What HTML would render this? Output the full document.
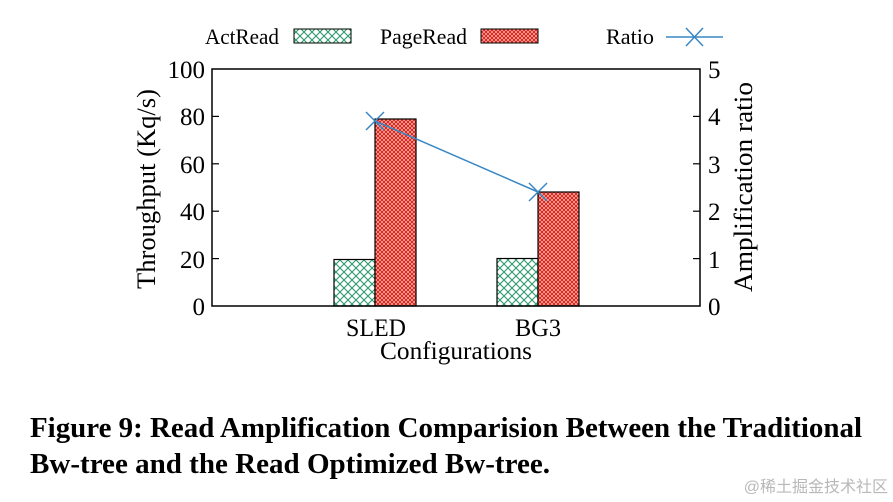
<!DOCTYPE html>
<html><head><meta charset="utf-8"><style>
html,body{margin:0;padding:0;background:#fff;}
svg{display:block;font-family:"Liberation Serif",serif;}
</style></head><body>
<svg width="893" height="502" viewBox="0 0 893 502" xmlns="http://www.w3.org/2000/svg">
<defs>
<pattern id="g" width="8" height="8" patternUnits="userSpaceOnUse">
<rect width="8" height="8" fill="#fff"/>
<path d="M0 0L8 8M8 0L0 8M-1 7L1 9M7 -1L9 1" stroke="#2a9a6a" stroke-width="1.1"/>
</pattern>
<pattern id="r" width="4" height="4" patternUnits="userSpaceOnUse">
<rect width="4" height="4" fill="#e0281e"/>
<path d="M0 0L4 4M4 0L0 4" stroke="#fff" stroke-width="0.5"/>
</pattern>
</defs>
<g font-size="22" fill="#000">
<text x="205" y="44" textLength="74" lengthAdjust="spacingAndGlyphs">ActRead</text>
<rect x="294" y="29" width="57" height="14" fill="url(#g)" stroke="#000" stroke-width="1"/>
<text x="380" y="44" textLength="87" lengthAdjust="spacingAndGlyphs">PageRead</text>
<rect x="481" y="29" width="57" height="14" fill="url(#r)" stroke="#000" stroke-width="1"/>
<text x="606" y="44" textLength="48" lengthAdjust="spacingAndGlyphs">Ratio</text>
<line x1="666" y1="37" x2="723" y2="37" stroke="#3a87c4" stroke-width="1.5"/>
<path d="M686 28L703 46M703 28L686 46" stroke="#3a87c4" stroke-width="1.5"/>
</g>
<rect x="334" y="259.5" width="41" height="46.5" fill="url(#g)" stroke="#000" stroke-width="1.2"/>
<rect x="375" y="119" width="41" height="187" fill="url(#r)" stroke="#000" stroke-width="1.2"/>
<rect x="497" y="258.5" width="41" height="47.5" fill="url(#g)" stroke="#000" stroke-width="1.2"/>
<rect x="538" y="192" width="41" height="114" fill="url(#r)" stroke="#000" stroke-width="1.2"/>
<polyline points="375,121 538,192" fill="none" stroke="#3a87c4" stroke-width="1.5"/>
<path d="M366 112L384 130M384 112L366 130M529 183L547 201M547 183L529 201" stroke="#3a87c4" stroke-width="1.5"/>
<rect x="212" y="69" width="488" height="237" fill="none" stroke="#000" stroke-width="1.5"/>
<g stroke="#000" stroke-width="1.2">
<line x1="212" y1="116.4" x2="219" y2="116.4"/><line x1="212" y1="163.8" x2="219" y2="163.8"/>
<line x1="212" y1="211.2" x2="219" y2="211.2"/><line x1="212" y1="258.6" x2="219" y2="258.6"/>
<line x1="693" y1="116.4" x2="700" y2="116.4"/><line x1="693" y1="163.8" x2="700" y2="163.8"/>
<line x1="693" y1="211.2" x2="700" y2="211.2"/><line x1="693" y1="258.6" x2="700" y2="258.6"/>
</g>
<g font-size="25" text-anchor="end">
<text x="205" y="78">100</text><text x="205" y="125">80</text><text x="205" y="173">60</text>
<text x="205" y="220">40</text><text x="205" y="268">20</text><text x="205" y="315">0</text>
</g>
<g font-size="25">
<text x="708" y="78">5</text><text x="708" y="125">4</text><text x="708" y="173">3</text>
<text x="708" y="220">2</text><text x="708" y="268">1</text><text x="708" y="315">0</text>
</g>
<g font-size="25" text-anchor="middle">
<text x="376" y="336" textLength="60" lengthAdjust="spacingAndGlyphs">SLED</text>
<text x="538" y="336" textLength="46" lengthAdjust="spacingAndGlyphs">BG3</text>
<text x="456" y="359" textLength="152" lengthAdjust="spacingAndGlyphs">Configurations</text>
</g>
<text transform="translate(155,189) rotate(-90)" font-size="26" text-anchor="middle" textLength="200" lengthAdjust="spacingAndGlyphs">Throughput (Kq/s)</text>
<text transform="translate(752,187) rotate(-90)" font-size="26" text-anchor="middle" textLength="210" lengthAdjust="spacingAndGlyphs">Amplification ratio</text>
<g font-size="28" font-weight="bold">
<text x="30" y="437" textLength="832" lengthAdjust="spacingAndGlyphs">Figure 9: Read Amplification Comparision Between the Traditional</text>
<text x="30" y="473" textLength="520" lengthAdjust="spacingAndGlyphs">Bw-tree and the Read Optimized Bw-tree.</text>
</g>
<text x="888" y="492" font-size="16" fill="#b8b8b8" text-anchor="end" font-family="'Liberation Sans','Noto Sans CJK SC',sans-serif">@稀土掘金技术社区</text>
</svg>
</body></html>
